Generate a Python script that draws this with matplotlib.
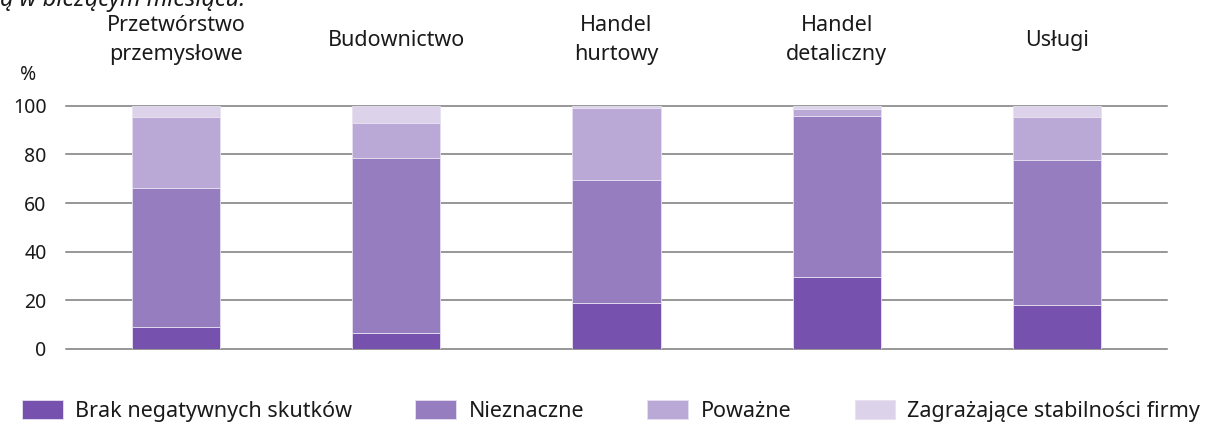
import matplotlib.pyplot as plt
import numpy as np

plt.rcParams['font.family'] = ['Noto Sans', 'DejaVu Sans']

categories = ["Przetwórstwo\nprzemysłowe", "Budownictwo", "Handel\nhurtowy",
              "Handel\ndetaliczny", "Usługi"]
series_names = ["Brak negatywnych skutków", "Nieznaczne", "Poważne",
                "Zagrażające stabilności firmy"]
brak = [9.1, 6.6, 18.9, 29.6, 18.2]
nieznaczne = [57.0, 71.8, 50.6, 66.2, 59.3]
powazne = [29.4, 14.5, 29.5, 3.0, 17.8]
zagrazajace = [4.5, 7.1, 1.0, 1.2, 4.7]
yticks = [0, 20, 40, 60, 80, 100]

colors = ["#7651ad", "#967dbf", "#baa8d6", "#dcd3ea"]
TXT = "#1a1a1a"


def main():
    fig = plt.figure(figsize=(12.15, 4.24), dpi=100)
    ax = fig.add_axes([66 / 1215, 1 - 349 / 424, 1101 / 1215, 243.3 / 424])

    x = np.arange(len(categories))
    bottom = np.zeros(len(categories))
    for vals, name, c in zip([brak, nieznaczne, powazne, zagrazajace], series_names, colors):
        ax.bar(x, vals, 0.4, bottom=bottom, color=c, label=name,
               edgecolor="#e6e0f0", linewidth=0.6, zorder=3)
        bottom += np.array(vals)

    ax.set_xlim(-0.5, len(categories) - 0.5)
    ax.set_ylim(0, 100)
    ax.set_yticks(yticks)
    ax.tick_params(axis="y", length=0, pad=14, labelsize=14, colors=TXT)
    ax.set_xticks([])
    for yv in yticks:
        ax.axhline(yv, color="#7a7a7a", linewidth=1.1, zorder=1, clip_on=False)
    for s in ax.spines.values():
        s.set_visible(False)

    # category names sit above the plot
    for xi, cat in zip(x, categories):
        ax.text(xi, 1.27, cat, transform=ax.get_xaxis_transform(), ha="center",
                va="center", fontsize=15.5, linespacing=1.5, color=TXT)

    fig.text(28 / 1215, 1 - 75 / 424, "%", ha="center", va="center",
             fontsize=14, color=TXT)
    fig.text(0, 1 - 6 / 424, "ą w bieżącym miesiącu.", ha="left", va="baseline",
             fontsize=17, style="italic", color=TXT)

    fig.legend(loc="center left", bbox_to_anchor=(22 / 1215, 1 - 411 / 424), ncol=4,
               frameon=False, fontsize=15.5, handlelength=1.9, handleheight=0.93,
               handletextpad=0.56, columnspacing=2.95, borderaxespad=0,
               borderpad=0, labelcolor=TXT)

    fig.savefig("out.png", dpi=100)


if __name__ == "__main__":
    main()
